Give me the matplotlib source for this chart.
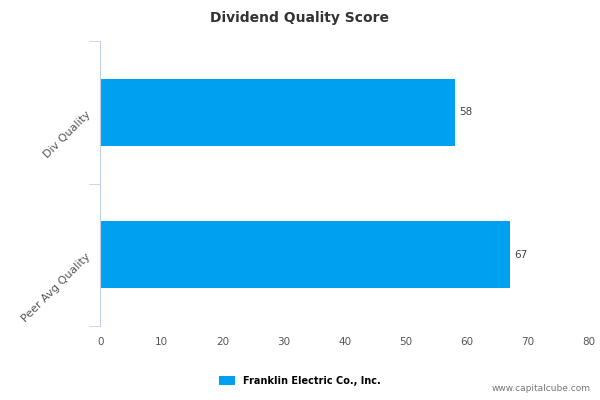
import matplotlib
matplotlib.use("Agg")
import matplotlib.pyplot as plt

categories = ["Div Quality", "Peer Avg Quality"]
values = [58, 67]
ticks = [0, 10, 20, 30, 40, 50, 60, 70, 80]
series_name = "Franklin Electric Co., Inc."
color = "#00a0f0"

fig = plt.figure(figsize=(6, 4), dpi=100)
ax = fig.add_axes([0.167, 0.185, 0.815, 0.712])
ypos = [0, 1]
bars = ax.barh(ypos, values, height=0.47, color=color, label=series_name)
ax.set_ylim(1.5, -0.5)
ax.set_xlim(0, 80)
ax.set_xticks(ticks)
ax.set_xticklabels([str(t) for t in ticks], fontsize=7.5, color="#555555")
ax.set_yticks(ypos)
ax.set_yticklabels(categories, rotation=45, ha="right", va="center", fontsize=8, color="#555555", rotation_mode="anchor")
ax.set_yticks([-0.5, 0.5, 1.5], minor=True)
ax.tick_params(axis="y", which="major", length=0, pad=8)
ax.tick_params(axis="y", which="minor", length=8, color="#c0d0e0")
ax.tick_params(axis="x", length=0, pad=8)
for s in ["top", "right", "bottom"]:
    ax.spines[s].set_visible(False)
ax.spines["left"].set_color("#c0d0e0")
for b, v in zip(bars, values):
    ax.text(v + 0.8, b.get_y() + b.get_height() / 2, str(v), va="center", fontsize=7.5, color="#444444")
fig.text(0.5, 0.955, "Dividend Quality Score", ha="center", va="center", fontsize=10, fontweight="bold", color="#333333")
fig.legend(loc="center", bbox_to_anchor=(0.5, 0.048), frameon=False, fontsize=7,
           handlelength=1.6, handleheight=1.1, prop={"weight": "bold", "size": 7})
fig.text(0.985, 0.018, "www.capitalcube.com", ha="right", va="bottom", fontsize=6.5, color="#777777")
fig.savefig("out.png", dpi=100)
